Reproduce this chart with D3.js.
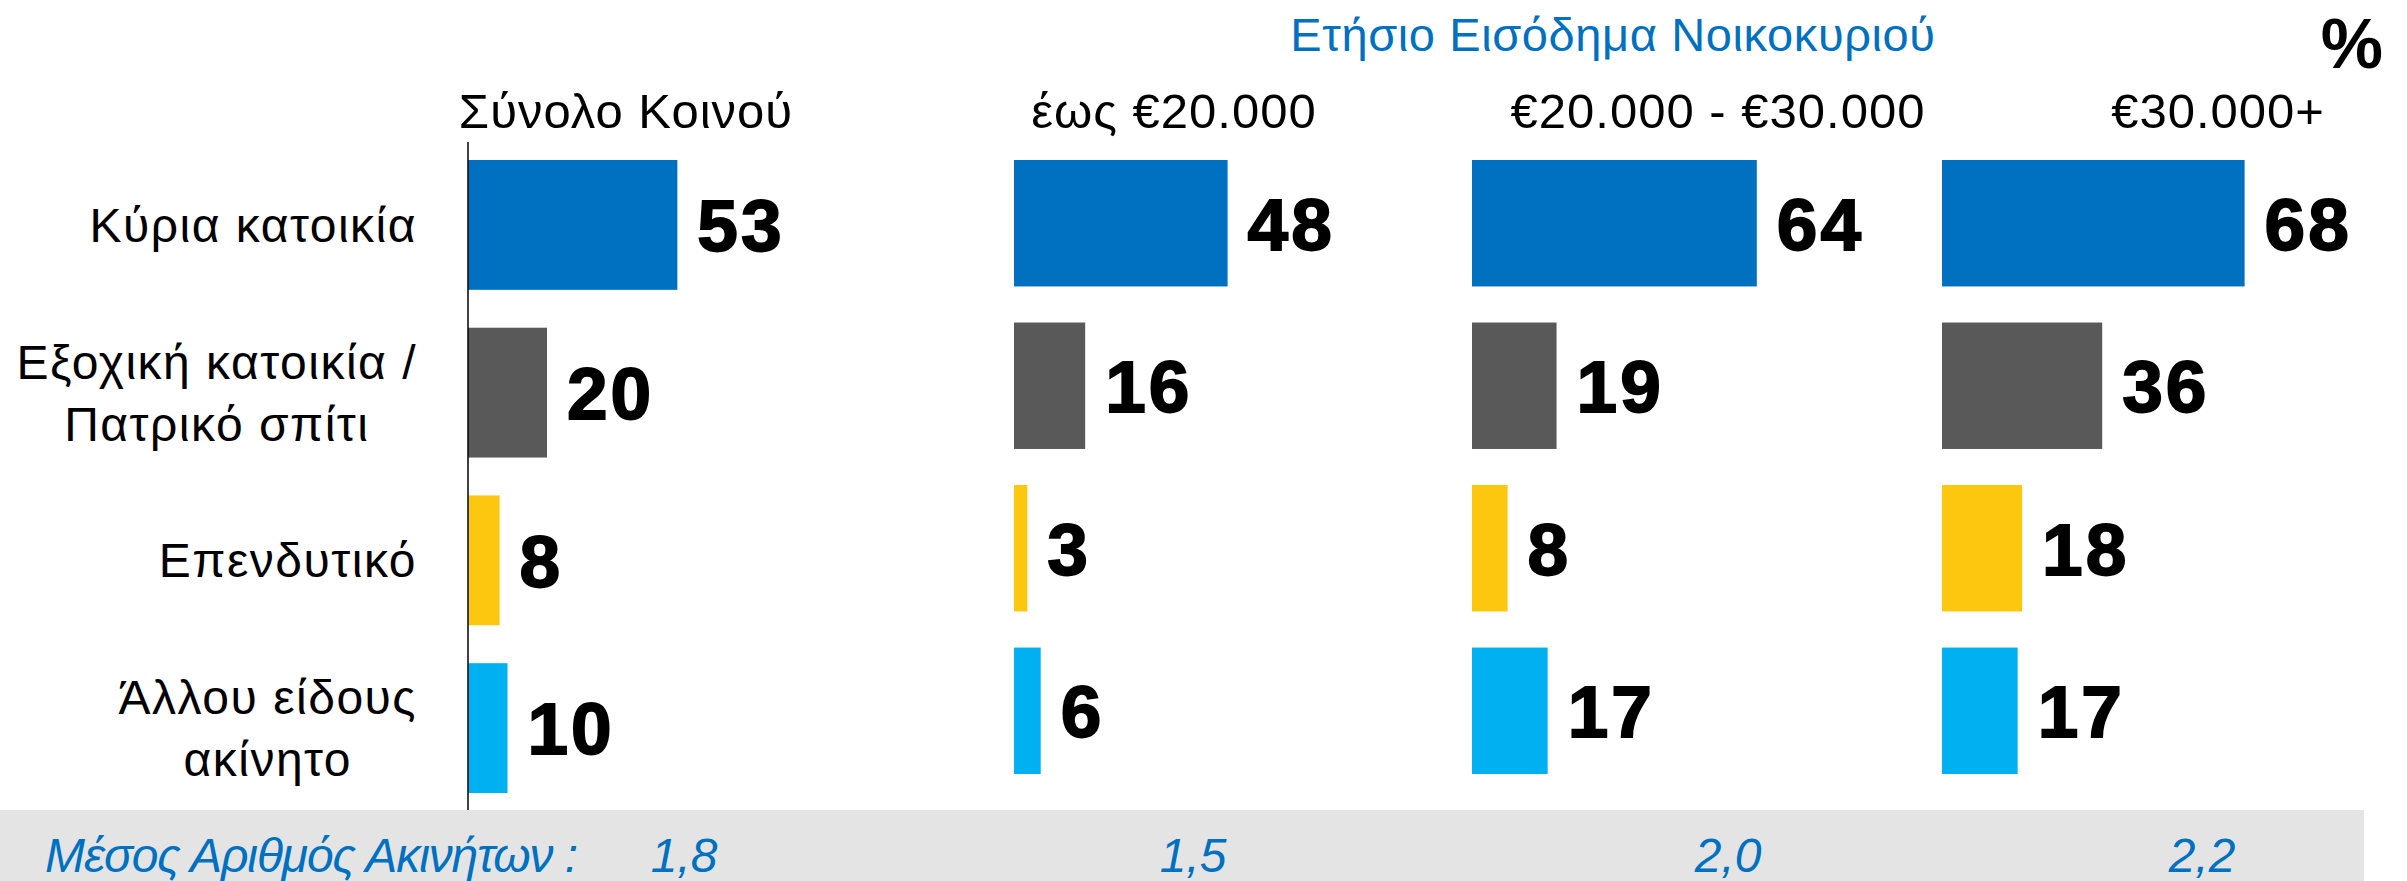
<!doctype html>
<html>
  <head>
    <meta charset="utf-8">
    <script src="https://cdn.jsdelivr.net/npm/d3@7/dist/d3.min.js"></script>
    <title>Ακίνητα ανά εισόδημα</title>
    <style>
      body { margin: 0; background: #fff; }
      svg { display: block; font-family: "Liberation Sans", Arial, sans-serif; }
    </style>
  </head>
  <body>
    <div id="chart"></div>
    <script>
      // data
      const categories = ["Κύρια κατοικία", "Εξοχική κατοικία / Πατρικό σπίτι", "Επενδυτικό", "Άλλου είδους ακίνητο"];
      const categoryLines = [["Κύρια κατοικία"], ["Εξοχική κατοικία /", "Πατρικό σπίτι"], ["Επενδυτικό"], ["Άλλου είδους", "ακίνητο"]];
      const groups = ["Σύνολο Κοινού", "έως €20.000", "€20.000 - €30.000", "€30.000+"];
      const totalValues = [53, 20, 8, 10];
      const upTo20k = [48, 16, 3, 6];
      const from20to30k = [64, 19, 8, 17];
      const over30k = [68, 36, 18, 17];
      const averages = ["1,8", "1,5", "2,0", "2,2"];
      const barColors = ["#0070c0", "#595959", "#fdc60f", "#00b0f0"];

      const series = [totalValues, upTo20k, from20to30k, over30k];

      const width = 2407, height = 881;
      const blue = "#0070c0";

      // layout per panel
      const panels = [
        { x0: 468, unit: 395, y: [160, 793], pad: 0.226, headX: 626, avgX: 684 },
        { x0: 1014, unit: 445, y: [160, 774], pad: 0.222, headX: 1174, avgX: 1193 },
        { x0: 1472, unit: 445, y: [160, 774], pad: 0.222, headX: 1718, avgX: 1728 },
        { x0: 1942, unit: 445, y: [160, 774], pad: 0.222, headX: 2218, avgX: 2202 }
      ];

      const svg = d3.select("#chart").append("svg")
          .attr("width", width)
          .attr("height", height);

      // bottom band
      svg.append("rect")
          .attr("x", 0)
          .attr("y", 810)
          .attr("width", 2364)
          .attr("height", height - 810)
          .attr("fill", "#e4e4e4");

      svg.append("text")
          .attr("x", 45)
          .attr("y", 872)
          .attr("fill", blue)
          .attr("font-size", 48)
          .attr("font-style", "italic")
          .attr("letter-spacing", -1.1)
          .text("Μέσος Αριθμός Ακινήτων :");

      // title + percent
      svg.append("text")
          .attr("x", 1613)
          .attr("y", 51)
          .attr("text-anchor", "middle")
          .attr("fill", blue)
          .attr("font-size", 47)
          .attr("letter-spacing", 0.6)
          .text("Ετήσιο Εισόδημα Νοικοκυριού");

      svg.append("text")
          .attr("x", 2383)
          .attr("y", 68)
          .attr("text-anchor", "end")
          .attr("font-size", 70)
          .attr("font-weight", "bold")
          .text("%");

      panels.forEach(function(p, gi) {
        const x = d3.scaleLinear().domain([0, 100]).range([0, p.unit]);
        const y = d3.scaleBand().domain(categories).range(p.y).paddingInner(p.pad).paddingOuter(0);
        const data = series[gi].map((v, i) => ({ cat: categories[i], value: v, color: barColors[i] }));

        const g = svg.append("g").attr("transform", "translate(" + p.x0 + ",0)");

        g.selectAll("rect.bar")
          .data(data)
          .join("rect")
            .attr("class", "bar")
            .attr("x", 0)
            .attr("y", d => y(d.cat))
            .attr("width", d => x(d.value))
            .attr("height", y.bandwidth())
            .attr("fill", d => d.color);

        g.selectAll("text.val")
          .data(data)
          .join("text")
            .attr("class", "val")
            .attr("x", d => x(d.value) + 20)
            .attr("y", d => y(d.cat) + y.bandwidth() / 2)
            .attr("dy", "0.36em")
            .attr("font-size", 73)
            .attr("font-weight", "bold")
            .attr("letter-spacing", 3)
            .attr("stroke", "#000")
            .attr("stroke-width", 1.8)
            .text(d => d.value);

        svg.append("text")
            .attr("x", p.headX)
            .attr("y", 128)
            .attr("text-anchor", "middle")
            .attr("font-size", 49)
            .attr("letter-spacing", 1)
            .text(groups[gi]);

        svg.append("text")
            .attr("x", p.avgX)
            .attr("y", 872)
            .attr("text-anchor", "middle")
            .attr("fill", blue)
            .attr("font-size", 48)
            .attr("font-style", "italic")
            .text(averages[gi]);

        if (gi === 0) {
          // vertical axis line and category labels
          g.append("line")
              .attr("x1", 0).attr("x2", 0)
              .attr("y1", 142).attr("y2", 810)
              .attr("stroke", "#000")
              .attr("stroke-width", 1.5);

          const right = 417;
          categoryLines.forEach(function(lines, ci) {
            const cy = y(categories[ci]) + y.bandwidth() / 2;
            const t = svg.append("text")
                .attr("font-size", 48)
                .attr("letter-spacing", 1.5)
                .attr("text-anchor", "middle");
            const spans = lines.map((s, li) => t.append("tspan")
                .attr("y", cy + 17 + (li - (lines.length - 1) / 2) * 62)
                .text(s));
            const w = d3.max(spans, s => s.node().getComputedTextLength());
            spans.forEach(s => s.attr("x", right - w / 2));
          });
        }
      });
    </script>
  </body>
</html>
